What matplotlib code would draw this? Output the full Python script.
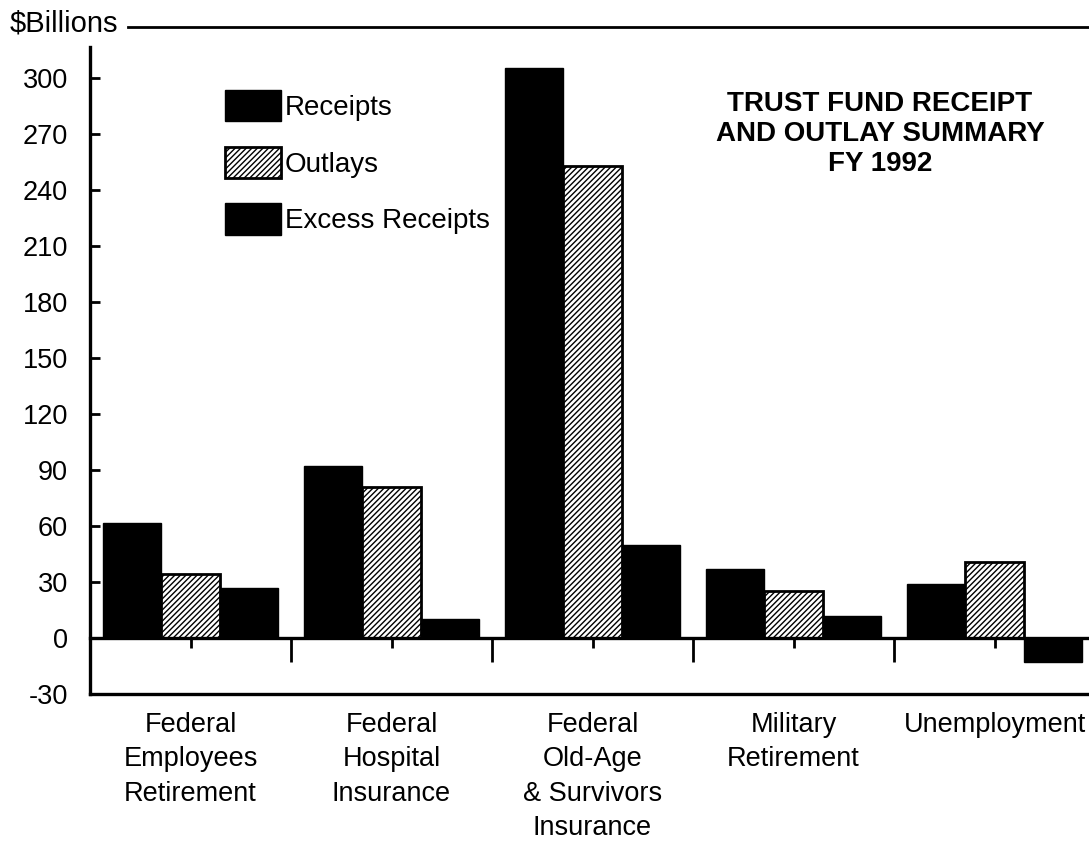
import matplotlib.pyplot as plt
from matplotlib.lines import Line2D
import numpy as np

# Trust fund data, FY 1992 ($ billions)
categories = ['Federal\nEmployees\nRetirement', 'Federal\nHospital\nInsurance',
              'Federal\nOld-Age\n& Survivors\nInsurance', 'Military\nRetirement',
              'Unemployment']
receipts = [61.5, 92, 305.5, 37, 29]
outlays = [34.5, 81, 253, 25, 40.5]
excess = [27, 10, 50, 12, -13]
yticks = [-30, 0, 30, 60, 90, 120, 150, 180, 210, 240, 270, 300]

plt.rcParams['font.family'] = 'Liberation Sans'
plt.rcParams['axes.unicode_minus'] = False
plt.rcParams['hatch.linewidth'] = 1.0

W, H = 1089, 841
fig = plt.figure(figsize=(W / 100, H / 100), dpi=100)
ax = fig.add_axes([90 / W, 1 - 694 / H, 999 / W, (694 - 47) / H])

x = np.arange(len(categories))
bw = 0.29

ax.bar(x - bw, receipts, bw, color='black', edgecolor='black', linewidth=1, label='Receipts')
ax.bar(x, outlays, bw, color='white', edgecolor='black', hatch='//////', linewidth=2, label='Outlays')
ax.bar(x + bw, excess, bw, color='black', edgecolor='black', linewidth=1, label='Excess Receipts')

ax.set_xlim(-0.5, 4.47)
ax.set_ylim(-30, 316.5)

# spines: left axis, bottom line at -30, top spine moved to the zero line
ax.spines['right'].set_visible(False)
ax.spines['top'].set_position(('data', 0))
for s in ['left', 'bottom', 'top']:
    ax.spines[s].set_linewidth(2.4)

ax.set_yticks(yticks)
ax.tick_params(axis='y', direction='in', length=7, width=2, pad=16, labelsize=19.5)

ax.set_xticks(x)
ax.set_xticklabels(categories)
ax.set_xticks(np.arange(-0.5, 4.0, 1.0), minor=True)
ax.tick_params(axis='x', which='both', bottom=False, top=True, labelbottom=True,
               labeltop=False, direction='in', width=2, labelsize=19.5, pad=13)
ax.tick_params(axis='x', which='major', length=7)
ax.tick_params(axis='x', which='minor', length=17)
for lbl in ax.get_xticklabels():
    lbl.set_linespacing(1.42)

leg = ax.legend(loc='upper left', bbox_to_anchor=(225 / W, 1 - 90 / H),
                bbox_transform=fig.transFigure, frameon=False, fontsize=20,
                handlelength=2.0, handleheight=1.35, handletextpad=0.15,
                labelspacing=0.92, borderpad=0, borderaxespad=0)

fig.text(880 / W, 1 - 91 / H, 'TRUST FUND RECEIPT\nAND OUTLAY SUMMARY\nFY 1992',
         ha='center', va='top', fontsize=20, fontweight='bold', linespacing=1.2)

fig.text(10 / W, 1 - 24 / H, '$Billions', ha='left', va='center', fontsize=21)
fig.add_artist(Line2D([128 / W, 1], [1 - 27 / H, 1 - 27 / H], transform=fig.transFigure,
                      color='black', linewidth=2))

fig.savefig('out.png', dpi=100)
